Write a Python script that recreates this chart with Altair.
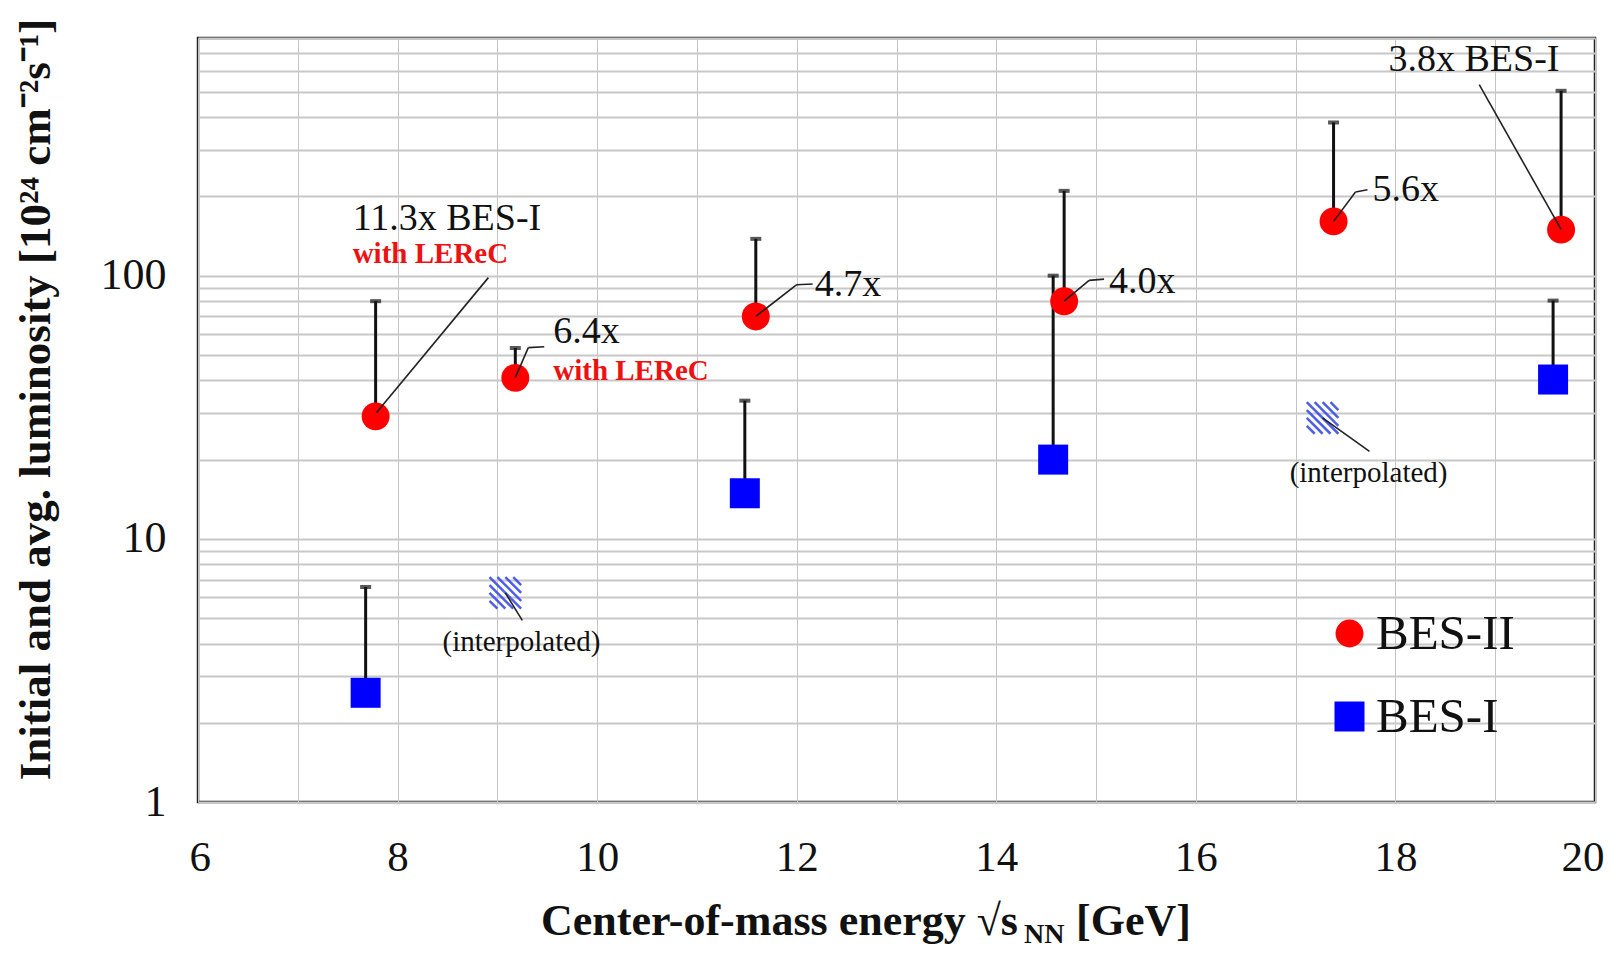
import altair as alt
import pandas as pd

# ---------------- data ----------------
bes2_x = [7.78, 9.18, 11.59, 14.68, 17.38, 19.66]
bes2_y = [29.2, 40.9, 70.0, 79.9, 160.8, 149.6]
bes2_hi = [80.0, 53.1, 138.0, 210.0, 382.0, 504.0]

bes1_x = [7.68, 11.48, 14.57, 19.58]
bes1_y = [2.6, 14.9, 20.0, 40.3]
bes1_hi = [6.56, 33.5, 100.0, 80.4]

interp_x = [9.08, 17.27]
interp_y = [6.23, 28.8]

x_grid = list(range(6, 21))
y_grid = [1, 2, 3, 4, 5, 6, 7, 8, 9, 10, 20, 30, 40, 50, 60, 70, 80, 90,
          100, 200, 300, 400, 500, 600, 700, 800]

ann_text = ["11.3x BES-I", "6.4x", "4.7x", "4.0x", "5.6x", "3.8x BES-I"]
ann_x = [7.55, 9.56, 12.18, 15.13, 17.77, 17.93]
ann_y = [149.6, 55.5, 83.4, 86.0, 191.5, 597.0]

lerec_text = ["with LEReC", "with LEReC"]
lerec_x = [7.55, 9.56]
lerec_y = [111.7, 40.3]

interp_text = ["(interpolated)", "(interpolated)"]
interp_lbl_x = [8.45, 16.94]
interp_lbl_y = [3.74, 16.4]

seg_x1 = [7.79, 9.18, 9.31, 11.59, 12.00, 14.68, 14.93, 17.38, 17.60, 18.84, 9.08, 17.27]
seg_y1 = [30.2, 41.0, 53.3, 70.0, 92.4, 80.0, 96.0, 160.8, 208.0, 532.0, 6.23, 28.8]
seg_x2 = [8.91, 9.31, 9.47, 12.00, 12.16, 14.93, 15.08, 17.60, 17.72, 19.66, 9.25, 17.74]
seg_y2 = [98.3, 53.3, 53.7, 92.4, 93.0, 96.0, 97.0, 208.0, 212.0, 150.0, 4.9, 21.5]

series_names = ["BES-II", "BES-I"]
series_colors = ["#ff0000", "#0000ff"]

# ---------------- tables ----------------
pts = pd.DataFrame({
    "series": ["BES-II"] * len(bes2_x) + ["BES-I"] * len(bes1_x),
    "x": bes2_x + bes1_x,
    "y": bes2_y + bes1_y,
    "hi": bes2_hi + bes1_hi,
})
caps = pd.DataFrame({"x": bes2_x + bes1_x, "y": bes2_hi + bes1_hi})
interp = pd.DataFrame({"x": interp_x, "y": interp_y})
ann = pd.DataFrame({"x": ann_x, "y": ann_y, "t": ann_text})
lerec = pd.DataFrame({"x": lerec_x, "y": lerec_y, "t": lerec_text})
ilbl = pd.DataFrame({"x": interp_lbl_x, "y": interp_lbl_y, "t": interp_text})
segs = pd.DataFrame({"x": seg_x1, "y": seg_y1, "x2": seg_x2, "y2": seg_y2})
one = pd.DataFrame({"a": [0]})

FONT = "Liberation Serif"

xscale = alt.Scale(domain=[6, 20], nice=False, zero=False)
yscale = alt.Scale(type="log", domain=[1, 800], nice=False)

xaxis = alt.Axis(
    values=x_grid, title=None, domain=False, ticks=False, grid=True,
    gridColor="#c4c4c4", gridWidth=1,
    labelExpr="datum.value % 2 == 0 ? format(datum.value, 'd') : ''",
    labelFont=FONT, labelFontSize=43, labelColor="#111", labelPadding=34,
    labelFlush=True, labelFlushOffset=9, labelOverlap=False,
)
yaxis = alt.Axis(
    values=y_grid, domain=False, ticks=False, grid=True,
    gridColor="#c8c8c8", gridWidth=2,
    labelExpr="(datum.value == 1 || datum.value == 10 || datum.value == 100) ? format(datum.value, 'd') : ''",
    labelFont=FONT, labelFontSize=44, labelColor="#111", labelPadding=32,
    labelOverlap=False, labelFlush=False,
    title="Initial and avg. luminosity [10²⁴ cm⁻²s⁻¹]",
    titleFont=FONT, titleFontSize=45, titleFontWeight="bold", titleColor="#111",
    titleX=-149, titleY=361, titleAngle=270, titleBaseline="alphabetic",
    titleAlign="center",
)


def X(f="x"):
    return alt.X(f"{f}:Q", scale=xscale, axis=xaxis)


def Y(f="y"):
    return alt.Y(f"{f}:Q", scale=yscale, axis=yaxis)


errbars = alt.Chart(pts).mark_rule(color="#111", strokeWidth=3).encode(
    x=X(), y=Y(), y2="hi:Q"
)
capmarks = alt.Chart(caps).mark_tick(
    color="#111", orient="horizontal", size=11, thickness=4
).encode(x=X(), y=Y())

hatch_path = ("M0.5,-1L1,-0.5M0,-1L1,0M-0.5,-1L1,0.5M-1,-1L1,1"
              "M-1,-0.5L0.5,1M-1,0L0,1M-1,0.5L-0.5,1")
hatch = alt.Chart(interp).mark_point(
    shape=hatch_path, filled=False, stroke="#3b4fe6", strokeWidth=2.5,
    size=1000, opacity=0.9
).encode(x=X(), y=Y())

leg = alt.Legend(
    title=None, orient="none", legendX=1127, legendY=571,
    labelFont=FONT, labelFontSize=49, labelColor="#111", labelOffset=2,
    symbolSize=800, symbolStrokeWidth=0, rowPadding=33, padding=0,
)
points = alt.Chart(pts).mark_point(filled=True, opacity=1, strokeWidth=0).encode(
    x=X(), y=Y(),
    color=alt.Color("series:N", scale=alt.Scale(domain=series_names, range=series_colors), legend=leg),
    shape=alt.Shape("series:N", scale=alt.Scale(domain=series_names, range=["circle", "square"]), legend=leg),
    size=alt.Size("series:N", scale=alt.Scale(domain=series_names, range=[780, 900]), legend=None),
)

leaders = alt.Chart(segs).mark_rule(color="#222", strokeWidth=1.6).encode(
    x=X(), y=Y(), x2="x2:Q", y2="y2:Q"
)

ann_marks = alt.Chart(ann).mark_text(
    font=FONT, fontSize=38, color="#111", align="left", baseline="alphabetic"
).encode(x=X(), y=Y(), text="t:N")
lerec_marks = alt.Chart(lerec).mark_text(
    font=FONT, fontSize=29, fontWeight="bold", color="#ee1111", align="left", baseline="alphabetic"
).encode(x=X(), y=Y(), text="t:N")
ilbl_marks = alt.Chart(ilbl).mark_text(
    font=FONT, fontSize=29, color="#111", align="left", baseline="alphabetic"
).encode(x=X(), y=Y(), text="t:N")

# x-axis title with subscript, written as real text
xt_main = alt.Chart(one).mark_text(
    font=FONT, fontSize=44, fontWeight="bold", color="#111", align="right", baseline="alphabetic"
).encode(x=alt.value(820), y=alt.value(897), text=alt.value("Center-of-mass energy √s"))
xt_sub = alt.Chart(one).mark_text(
    font=FONT, fontSize=28, fontWeight="bold", color="#111", align="left", baseline="alphabetic"
).encode(x=alt.value(826), y=alt.value(905), text=alt.value("NN"))
xt_unit = alt.Chart(one).mark_text(
    font=FONT, fontSize=44, fontWeight="bold", color="#111", align="left", baseline="alphabetic"
).encode(x=alt.value(878), y=alt.value(897), text=alt.value("[GeV]"))

chart = alt.layer(
    errbars, capmarks, hatch, points, leaders, ann_marks, lerec_marks, ilbl_marks,
    xt_main, xt_sub, xt_unit,
).properties(
    width=1397, height=764,
    autosize=alt.AutoSizeParams(type="none"),
    padding={"left": 190, "top": 30, "right": 10, "bottom": 146},
    background="white",
).configure(font=FONT).configure_view(stroke="#222", strokeWidth=2.5)

chart.save("out.html", embed_options={"renderer": "svg", "actions": False})
